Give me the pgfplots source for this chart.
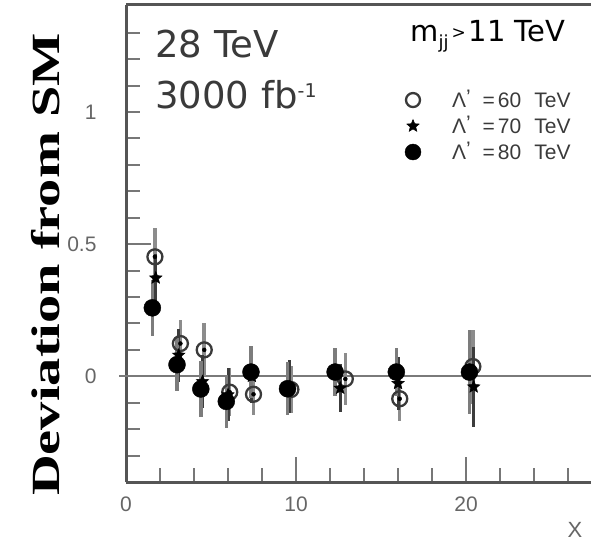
\documentclass[border=0pt]{standalone}
\usepackage{fontspec}
\setmainfont{Liberation Sans}
\newfontfamily\dejavu{DejaVu Sans}
\newfontfamily\serifb{Liberation Serif}
\usepackage{graphicx}
\usepackage{pgfplots}
\usepackage{pgfplotstable}
\pgfplotsset{compat=1.18}
\usetikzlibrary{plotmarks}
\definecolor{axgray}{HTML}{555555}
\definecolor{tickgray}{HTML}{666666}
\definecolor{txtgray}{HTML}{3A3A3A}
\definecolor{zgray}{HTML}{7A7A7A}
\definecolor{egA}{HTML}{8C8C8C}
\definecolor{egB}{HTML}{3C3C3C}
\definecolor{egC}{HTML}{7C7C7C}

\pgfdeclareplotmark{fstar}{%
  \pgfpathmoveto{\pgfpointpolar{90}{\pgfplotmarksize}}%
  \pgfpathlineto{\pgfpointpolar{126}{0.45\pgfplotmarksize}}%
  \pgfpathlineto{\pgfpointpolar{162}{\pgfplotmarksize}}%
  \pgfpathlineto{\pgfpointpolar{198}{0.45\pgfplotmarksize}}%
  \pgfpathlineto{\pgfpointpolar{234}{\pgfplotmarksize}}%
  \pgfpathlineto{\pgfpointpolar{270}{0.45\pgfplotmarksize}}%
  \pgfpathlineto{\pgfpointpolar{306}{\pgfplotmarksize}}%
  \pgfpathlineto{\pgfpointpolar{342}{0.45\pgfplotmarksize}}%
  \pgfpathlineto{\pgfpointpolar{18}{\pgfplotmarksize}}%
  \pgfpathlineto{\pgfpointpolar{54}{0.45\pgfplotmarksize}}%
  \pgfpathclose
  \pgfusepathqfillstroke
}

% Lambda' = 60 TeV (open circles)
\pgfplotstableread{
x y e
1.70 0.452 0.110
3.20 0.124 0.090
4.60 0.100 0.100
6.10 -0.060 0.090
7.50 -0.068 0.080
9.70 -0.050 0.090
12.90 -0.010 0.100
16.10 -0.085 0.085
20.40 0.037 0.140
}\dataA
% Lambda' = 70 TeV (stars)
\pgfplotstableread{
x y e
1.75 0.372 0.090
3.10 0.080 0.100
4.50 -0.020 0.100
6.00 -0.070 0.100
7.40 0.000 0.100
9.60 -0.040 0.100
12.60 -0.045 0.090
16.00 -0.027 0.100
20.45 -0.040 0.150
}\dataB
% Lambda' = 80 TeV (filled circles)
\pgfplotstableread{
x y e
1.55 0.259 0.105
3.00 0.044 0.100
4.40 -0.048 0.105
5.90 -0.095 0.100
7.35 0.016 0.100
9.50 -0.047 0.100
12.30 0.016 0.090
15.90 0.016 0.090
20.20 0.016 0.160
}\dataC

\begin{document}
\begin{tikzpicture}
\useasboundingbox (0,0) rectangle (591pt,547pt);
\begin{axis}[
  at={(126pt,65pt)}, anchor=south west,
  scale only axis, width=465pt, height=477pt,
  xmin=0, xmax=27.35, ymin=-0.4, ymax=1.405,
  clip=false,
  axis x line=bottom, axis y line=left,
  axis line style={-, axgray, line width=3pt},
  tick align=inside,
  major tick length=25pt, minor tick length=14pt,
  tick style={axgray!80, line width=2pt},
  xtick={0,10,20},
  minor xtick={2,4,6,8,12,14,16,18,22,24,26},
  ytick={0.5},
  minor ytick={-0.3,-0.2,-0.1,0,0.1,0.2,0.3,0.4,0.6,0.7,0.8,0.9,1.0,1.1,1.2,1.3},
  extra y ticks={0,1},
  extra y tick style={major tick length=0pt},
  /pgf/number format/assume math mode=true,
  ticklabel style={font=\fontsize{21}{21}\selectfont, text=tickgray},
  xticklabel style={yshift=-11pt},
  yticklabel style={xshift=-26pt},
  legend style={at={(axis description cs:0.6,0.828)}, anchor=north west,
    draw=none, fill=none, inner sep=0pt, outer sep=0pt, row sep=1pt,
    nodes={inner sep=0pt, anchor=base west},
    font=\fontsize{21}{21}\selectfont\color{txtgray}},
  legend cell align=left,
  legend image code/.code={%
    \path[draw=none, fill=none] (0pt,-5pt) rectangle (47pt,20pt);
    \draw[#1] plot coordinates {(8pt,7pt)};},
]
% zero line
\draw[zgray, line width=2pt] (axis cs:-0.4,0) -- (axis cs:27.35,0);
% top frame line
\draw[axgray, line width=3pt] (rel axis cs:0,1) -- (rel axis cs:1,1);

% error bars
\addplot[forget plot, only marks, mark=none,
  error bars/.cd, y dir=both, y explicit, error mark=none,
  error bar style={line width=3.5pt, egA}]
  table[x=x, y=y, y error=e] {\dataA};
\addplot[forget plot, only marks, mark=none,
  error bars/.cd, y dir=both, y explicit, error mark=none,
  error bar style={line width=3pt, egB}]
  table[x=x, y=y, y error=e] {\dataB};
\addplot[forget plot, only marks, mark=none,
  error bars/.cd, y dir=both, y explicit, error mark=none,
  error bar style={line width=3.5pt, egC}]
  table[x=x, y=y, y error=e] {\dataC};

% markers
\addplot[forget plot, only marks, mark=o, mark size=7.5pt,
  mark options={line width=2.3pt, draw=txtgray}]
  table[x=x, y=y] {\dataA};
\addplot[forget plot, only marks, mark=fstar, mark size=6.5pt,
  mark options={line width=0.5pt, draw=black, fill=black}]
  table[x=x, y=y] {\dataB};
\addplot[forget plot, only marks, mark=*, mark size=8.5pt,
  mark options={draw=black, fill=black}]
  table[x=x, y=y] {\dataC};

% legend
\addlegendimage{only marks, mark=o, mark size=7pt, mark options={line width=2.3pt, draw=txtgray}}
\addlegendentry{Λ\raisebox{3pt}{'}\hspace{12pt}=\hspace{3pt}60\hspace{13pt}TeV}
\addlegendimage{only marks, mark=fstar, mark size=6.5pt, mark options={line width=0.5pt, draw=black, fill=black}}
\addlegendentry{Λ\raisebox{3pt}{'}\hspace{12pt}=\hspace{3pt}70\hspace{13pt}TeV}
\addlegendimage{only marks, mark=*, mark size=8pt, mark options={draw=black, fill=black}}
\addlegendentry{Λ\raisebox{3pt}{'}\hspace{12pt}=\hspace{3pt}80\hspace{13pt}TeV}

% texts
\node[anchor=base west, inner sep=0pt, text=txtgray, font=\dejavu\fontsize{37}{37}\selectfont]
  at (axis description cs:0.0624,0.889) {28 TeV};
\node[anchor=base west, inner sep=0pt, text=txtgray, font=\dejavu\fontsize{37}{37}\selectfont]
  at (axis description cs:0.0624,0.784) {3000 fb\raisebox{11pt}{\fontsize{19}{19}\selectfont -1}};
\node[anchor=base west, inner sep=0pt, text=black, font=\dejavu\fontsize{29}{29}\selectfont]
  at (axis description cs:0.611,0.923) {m\raisebox{-7pt}{\fontsize{18}{18}\selectfont jj}\hspace{3pt}\raisebox{3pt}{\fontsize{17}{17}\selectfont >}\hspace{3pt}11 TeV};
% y label
\node[rotate=90, anchor=center, inner sep=0pt, text=black]
  at (axis description cs:-0.172,0.456)
  {\scalebox{1.41}[1]{\serifb\bfseries\fontsize{40}{40}\selectfont Deviation from SM}};
% x label
\node[anchor=center, inner sep=0pt, text=tickgray, font=\fontsize{22}{22}\selectfont]
  at (axis description cs:0.9656,-0.1006) {X};
\end{axis}
\end{tikzpicture}
\end{document}
